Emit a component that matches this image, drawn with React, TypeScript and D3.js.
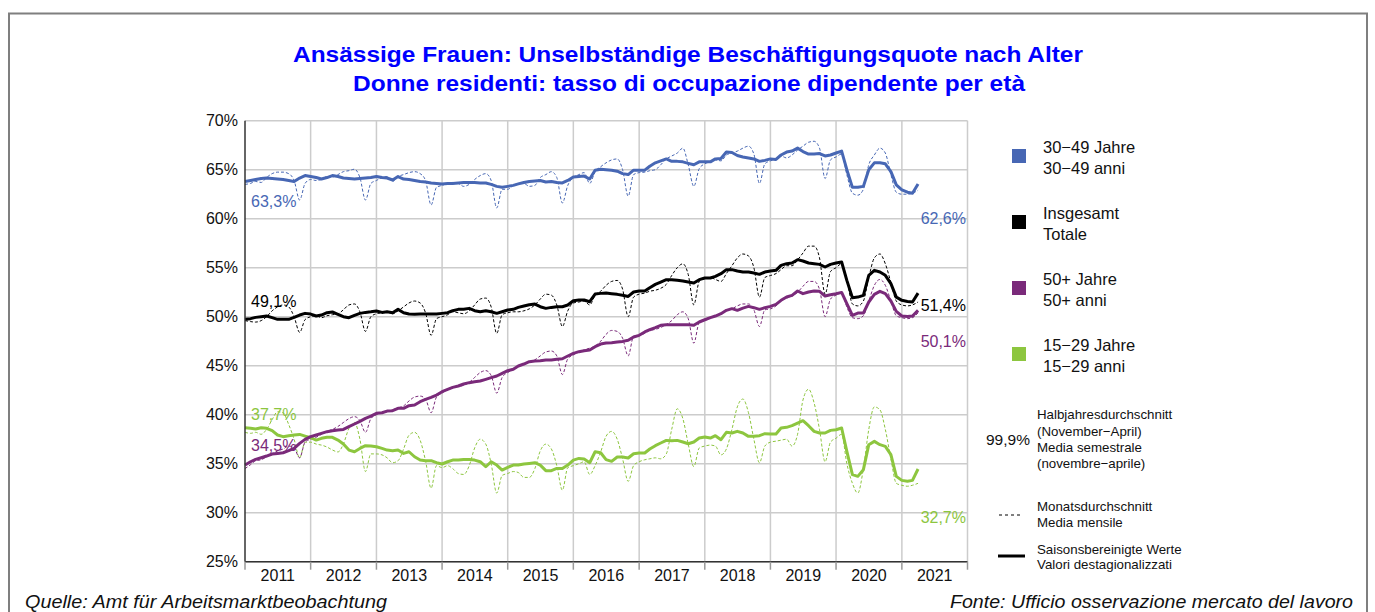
import React from "react";
import * as d3 from "d3";

// Jan 2011 .. Apr 2021, one value per month
const years = [2011, 2012, 2013, 2014, 2015, 2016, 2017, 2018, 2019, 2020, 2021];
const yTicks = [25, 30, 35, 40, 45, 50, 55, 60, 65, 70];

const blueMonthly = [
  63.5, 63.6, 63.8, 63.7, 64.2, 64.6, 64.75, 64.75, 64.6, 63.9, 61.9, 63.6,
  64.0, 63.9, 64.0, 64.3, 64.25, 64.5, 64.8, 64.9, 65.05, 64.2, 61.9, 63.6,
  63.9, 64.2, 64.3, 63.8, 64.3, 64.5, 64.7, 64.8, 64.6, 63.9, 61.4, 63.2,
  63.4, 63.6, 63.7, 63.6, 63.3, 63.5, 64.0, 64.4, 64.6, 63.9, 61.1, 63.0,
  63.0, 63.4, 63.6, 63.6, 63.3, 63.4, 64.2, 64.5, 64.8, 64.2, 61.6, 63.4,
  64.2, 64.5, 64.7, 63.6, 64.8, 65.3, 65.7, 66.0, 66.1, 65.0, 62.3, 64.5,
  64.7, 64.75, 64.9, 65.0, 65.5, 66.1, 66.4, 66.7, 67.2, 65.5, 63.3, 65.1,
  65.6, 65.8, 66.0, 65.9, 66.5, 66.7, 66.9, 67.2, 67.4, 66.6, 63.6, 65.6,
  65.9, 66.1, 66.4, 66.2, 66.5, 67.0, 67.4, 67.8, 67.9, 67.2, 64.1, 66.0,
  66.3, 66.6, 64.5, 62.6, 62.4, 63.0, 65.5, 66.5, 67.2, 66.7, 64.5, 62.7,
  62.5, 62.5, 62.6, 62.9,
];
const blueAdjusted = [
  63.8, 63.9, 64.0, 64.1, 64.15, 64.1, 64.05, 64.0, 63.9, 63.8, 64.15, 64.4,
  64.3, 64.2, 64.05, 64.2, 64.4, 64.3, 64.15, 64.1, 64.05, 64.1, 64.15, 64.2,
  64.3, 64.2, 64.15, 63.95, 64.3, 64.05, 64.0, 63.9, 63.8, 63.75, 63.65, 63.6,
  63.55, 63.6, 63.6, 63.65, 63.7, 63.7, 63.7, 63.65, 63.65, 63.5, 63.3, 63.2,
  63.3, 63.4, 63.55, 63.7, 63.8, 63.85, 63.9, 63.75, 63.8, 63.7, 63.65, 63.9,
  64.25, 64.3, 64.35, 64.05, 64.95, 65.05, 65.0, 64.95, 64.85, 64.6, 64.5, 64.95,
  64.95, 64.95, 65.35, 65.7, 65.9, 66.1, 65.85, 65.85, 65.8, 65.65, 65.5, 65.8,
  65.8, 65.8, 66.1, 66.15, 66.8, 66.75, 66.45, 66.3, 66.2, 66.1, 65.85, 65.95,
  66.1, 66.05, 66.5, 66.8, 66.9, 67.2, 66.85, 66.6, 66.6, 66.65, 66.4, 66.5,
  66.7, 66.9, 65.0, 63.2, 63.2, 63.3, 65.0, 65.7, 65.7, 65.6, 64.8, 63.45,
  62.95, 62.7, 62.6, 63.55,
];

const totalMonthly = [
  49.6, 49.5, 49.45, 49.6, 50.0, 50.6, 51.0, 51.2, 51.0, 50.0, 48.4, 49.7,
  50.0, 50.1, 49.9, 50.1, 50.2, 50.3, 50.7, 51.2, 51.3, 50.5, 48.5, 50.0,
  50.3, 50.4, 50.5, 50.3, 50.6, 51.0, 51.4, 51.6, 51.4, 50.4, 48.1, 49.8,
  50.0, 50.2, 50.5, 50.4, 50.3, 50.6, 51.2, 51.8, 51.9, 51.0, 48.3, 50.2,
  50.4, 50.5, 50.5, 50.6, 50.8, 51.2, 51.8, 52.3, 52.2, 51.2, 49.0, 50.6,
  51.4, 51.5, 51.6, 51.2, 52.2, 52.6, 53.2, 53.6, 53.7, 52.8, 50.0, 52.0,
  52.3, 52.4, 52.6, 52.7, 52.9, 53.3, 54.2, 55.0, 55.4, 54.3, 51.2, 53.6,
  53.9, 54.0, 53.8, 53.6, 54.4, 55.2, 56.0, 56.4, 56.2, 55.0, 52.0, 54.0,
  54.2, 54.4, 54.8, 55.2, 55.2, 55.8, 56.5, 57.2, 57.2, 56.0, 52.3, 54.6,
  55.0, 55.4, 53.8, 51.3, 51.1, 51.6, 54.0, 56.0, 56.4, 55.4, 53.5, 51.6,
  51.2, 51.1, 51.2, 51.5,
];
const totalAdjusted = [
  49.73, 49.8, 49.93, 50.0, 50.07, 49.9, 49.73, 49.73, 49.73, 49.93, 50.17, 50.34,
  50.27, 50.07, 50.17, 50.41, 50.48, 50.24, 50.0, 49.9, 50.14, 50.34, 50.44, 50.5,
  50.58, 50.44, 50.5, 50.41, 50.75, 50.41, 50.27, 50.24, 50.27, 50.27, 50.27, 50.27,
  50.34, 50.41, 50.61, 50.75, 50.75, 50.85, 50.61, 50.51, 50.61, 50.51, 50.34, 50.51,
  50.68, 50.75, 50.95, 51.09, 51.22, 51.29, 51.02, 50.85, 50.95, 51.02, 51.02, 51.19,
  51.63, 51.7, 51.7, 51.53, 52.31, 52.38, 52.41, 52.35, 52.28, 52.18, 52.07, 52.52,
  52.62, 52.62, 52.96, 53.3, 53.54, 53.78, 53.78, 53.71, 53.64, 53.54, 53.44, 53.78,
  53.95, 53.95, 54.12, 54.39, 54.8, 54.8, 54.66, 54.56, 54.56, 54.46, 54.32, 54.56,
  54.66, 54.73, 55.24, 55.41, 55.48, 55.82, 55.68, 55.48, 55.41, 55.34, 55.07, 55.34,
  55.48, 55.58, 53.71, 51.94, 52.0, 52.18, 54.22, 54.73, 54.56, 54.22, 53.37, 52.0,
  51.67, 51.56, 51.5, 52.41,
];

const olderMonthly = [
  34.5, 34.9, 35.3, 35.4, 35.7, 36.0, 36.3, 36.5, 36.8, 36.6, 35.6, 37.2,
  37.5, 37.7, 38.0, 38.3, 38.5, 38.8, 39.2, 39.6, 39.8, 39.4, 38.2, 39.6,
  40.0, 40.2, 40.3, 40.5, 40.7, 40.9, 41.4, 41.8, 41.9, 41.6, 40.2, 41.8,
  42.2, 42.6, 42.8, 42.9, 43.0, 43.3, 43.8, 44.3, 44.5, 44.0, 42.2, 43.8,
  44.3, 44.6, 44.9, 45.2, 45.4, 45.6, 46.0, 46.4, 46.5, 46.0, 44.1, 45.7,
  46.1, 46.4, 46.6, 46.8, 47.0, 47.5, 48.2, 48.6, 48.5, 47.8, 46.0, 48.0,
  48.1, 48.3, 48.6, 48.7, 48.9, 49.2, 49.6, 50.2, 50.5, 49.8, 47.3, 49.4,
  49.6, 49.9, 50.1, 50.3, 50.6, 50.8, 51.1, 51.3, 51.3, 50.7, 49.0, 50.7,
  50.8, 51.1, 51.6, 51.9, 52.1, 52.5, 53.1, 53.6, 53.6, 52.8, 50.0, 51.8,
  52.2, 52.4, 51.0, 49.9, 49.8, 50.1, 51.6, 53.2, 53.8, 53.2, 51.6, 50.1,
  49.9, 49.8, 49.9, 50.4,
];
const olderAdjusted = [
  34.86, 35.2, 35.44, 35.61, 35.78, 35.99, 36.05, 36.12, 36.33, 36.56, 37.07, 37.48,
  37.76, 37.93, 38.1, 38.27, 38.37, 38.44, 38.5, 38.78, 39.05, 39.32, 39.63, 39.86,
  40.14, 40.2, 40.37, 40.41, 40.65, 40.65, 40.92, 40.99, 41.33, 41.56, 41.77, 42.01,
  42.35, 42.59, 42.79, 42.93, 43.13, 43.27, 43.37, 43.44, 43.61, 43.78, 43.95, 44.22,
  44.49, 44.63, 44.97, 45.17, 45.41, 45.48, 45.51, 45.58, 45.58, 45.65, 45.71, 45.99,
  46.26, 46.43, 46.53, 46.6, 46.94, 47.21, 47.31, 47.35, 47.41, 47.48, 47.59, 47.93,
  48.1, 48.44, 48.67, 48.88, 49.12, 49.18, 49.18, 49.18, 49.18, 49.18, 49.12, 49.46,
  49.69, 49.9, 50.07, 50.31, 50.65, 50.82, 50.65, 50.88, 51.05, 50.92, 50.75, 50.92,
  51.05, 51.26, 51.67, 52.01, 52.18, 52.62, 52.35, 52.52, 52.62, 52.59, 52.11, 52.24,
  52.35, 52.48, 51.33, 50.14, 50.37, 50.37, 51.5, 52.28, 52.59, 52.35, 51.6, 50.54,
  50.07, 50.03, 50.07, 50.65,
];

const youngMonthly = [
  38.2, 38.1, 38.2, 38.0, 38.5, 39.5, 40.3, 40.2, 39.0, 37.5, 35.6, 37.2,
  37.2, 37.0, 36.9, 36.7, 36.4, 36.2, 37.0, 38.6, 39.2, 37.5, 34.2, 36.0,
  36.0, 35.9, 35.6, 35.1, 35.3, 36.5, 37.9, 38.2, 37.4, 35.3, 32.5, 34.8,
  34.6, 34.8, 34.5, 34.0, 33.9, 34.8, 36.6, 37.5, 37.0, 35.0, 32.0, 33.8,
  34.0, 34.2, 34.1, 33.6, 33.6, 34.5, 36.3, 37.0, 36.5, 34.8, 32.3, 34.6,
  34.8, 35.0, 35.2, 33.9, 34.8, 36.2, 37.8, 38.3, 37.5, 35.5, 33.2, 34.8,
  35.2, 35.4, 35.5, 35.6, 35.5, 36.0, 38.5, 40.6, 39.6, 37.0, 34.7, 36.6,
  36.8, 36.9, 36.8, 35.9, 36.5, 38.5, 40.8, 41.6, 40.2, 37.5, 35.1, 36.8,
  37.2, 37.3, 37.4, 37.5, 36.8, 38.0, 41.5, 42.6, 41.2, 38.5, 35.2, 37.2,
  37.6, 38.0, 35.0, 33.0, 32.0, 34.5, 38.5, 40.8, 40.5, 38.5, 35.5, 33.0,
  32.8, 32.7, 32.8, 33.0,
];
const youngAdjusted = [
  38.67, 38.61, 38.54, 38.67, 38.61, 38.37, 37.93, 37.76, 37.86, 37.93, 37.99, 37.82,
  37.65, 37.41, 37.59, 37.69, 37.69, 37.41, 37.01, 36.39, 36.22, 36.56, 36.84, 36.8,
  36.73, 36.56, 36.39, 36.33, 36.39, 36.05, 36.22, 35.71, 35.37, 35.31, 35.31, 35.1,
  34.97, 35.2, 35.37, 35.37, 35.44, 35.44, 35.37, 35.2, 34.69, 35.2, 34.86, 34.35,
  34.63, 34.86, 34.86, 34.97, 35.03, 35.1, 34.86, 34.29, 34.29, 34.52, 34.52, 34.86,
  35.37, 35.54, 35.48, 35.1, 36.22, 36.12, 35.41, 35.24, 35.68, 35.68, 35.58, 36.02,
  36.09, 36.09, 36.5, 36.84, 37.11, 37.38, 37.35, 37.38, 37.21, 37.04, 37.21, 37.62,
  37.72, 37.62, 37.86, 37.45, 38.2, 38.13, 38.3, 38.13, 37.79, 37.79, 37.86, 38.06,
  38.03, 38.03, 38.64, 38.71, 38.88, 39.15, 39.39, 38.88, 38.3, 38.13, 38.13, 38.4,
  38.47, 38.64, 36.26, 33.88, 33.71, 34.39, 36.94, 37.28, 36.94, 36.77, 35.92, 33.71,
  33.3, 33.2, 33.3, 34.46,
];

// half-year averages (November-April) shown at both ends of the lines
const startLabels = ["63,3%", "49,1%", "37,7%", "34,5%"];
const startLabelAt = [61.8, 51.55, 40.04, 36.9];
const endLabels = ["62,6%", "51,4%", "50,1%", "32,7%"];
const endLabelAt = [60.04, 51.12, 47.45, 29.53];

const legendDe = ["30−49 Jahre", "Insgesamt", "50+ Jahre", "15−29 Jahre"];
const legendIt = ["30−49 anni", "Totale", "50+ anni", "15−29 anni"];

const BLUE = "#4767b4";
const BLACK = "#000000";
const PURPLE = "#7a2a7a";
const GREEN = "#8dc63f";
const FONT = "'Liberation Sans', Arial, Helvetica, sans-serif";

export default function App() {
  const width = 1375;
  const height = 612;
  const left = 245;
  const right = 967.5;
  const top = 120.7;
  const bottom = 561.7;

  const start = new Date(2011, 0, 1);
  const date = (i: number) => d3.timeMonth.offset(start, i);
  const x = d3.scaleTime().domain([start, new Date(2022, 0, 1)]).range([left, right]);
  const y = d3.scaleLinear().domain([25, 70]).range([bottom, top]);

  const solidLine = d3.line<number>().x((d, i) => x(date(i))).y(d => y(d));
  const dashLine = d3.line<number>().x((d, i) => x(date(i))).y(d => y(d)).curve(d3.curveMonotoneX);

  const series = [
    { monthly: youngMonthly, adjusted: youngAdjusted, color: GREEN },
    { monthly: olderMonthly, adjusted: olderAdjusted, color: PURPLE },
    { monthly: totalMonthly, adjusted: totalAdjusted, color: BLACK },
    { monthly: blueMonthly, adjusted: blueAdjusted, color: BLUE },
  ];
  const startColors = [BLUE, BLACK, GREEN, PURPLE];
  const endColors = [BLUE, BLACK, PURPLE, GREEN];
  const legendColors = [BLUE, BLACK, PURPLE, GREEN];

  const boundaries = years.concat([2022]).map(yr => x(new Date(yr, 0, 1)));

  return (
    <div style={{ position: "absolute", left: 0, top: 0, width, height, overflow: "hidden" }}>
      <svg width={width} height={height} style={{ display: "block", fontFamily: FONT }}>
        <rect x={0} y={0} width={width} height={height} fill="#fff" />
        <rect x={9} y={13.5} width={1358} height={640} fill="none" stroke="#7f7f7f" strokeWidth={2} />

        <text x={688} y={62} textAnchor="middle" fontSize={22} fontWeight="bold" fill="#0000ff"
          textLength={790} lengthAdjust="spacingAndGlyphs">
          Ansässige Frauen: Unselbständige Beschäftigungsquote nach Alter
        </text>
        <text x={689} y={91} textAnchor="middle" fontSize={22} fontWeight="bold" fill="#0000ff"
          textLength={672} lengthAdjust="spacingAndGlyphs">
          Donne residenti: tasso di occupazione dipendente per età
        </text>

        {/* grid */}
        {yTicks.map(t => (
          <line key={"gy" + t} x1={left} x2={right} y1={y(t)} y2={y(t)} stroke="#cccccc" strokeWidth={1.5} />
        ))}
        {boundaries.slice(1).map((bx, i) => (
          <line key={"gx" + i} x1={bx} x2={bx} y1={top} y2={bottom} stroke="#cccccc" strokeWidth={1.5} />
        ))}

        {/* monthly averages */}
        {series.map((s, i) => (
          <path key={"m" + i} d={dashLine(s.monthly) || ""} fill="none" stroke={s.color}
            strokeWidth={1} strokeDasharray="3,2" />
        ))}
        {/* seasonally adjusted */}
        {series.map((s, i) => (
          <path key={"a" + i} d={solidLine(s.adjusted) || ""} fill="none" stroke={s.color}
            strokeWidth={3} strokeLinejoin="round" />
        ))}

        {/* axes */}
        <line x1={left} x2={left} y1={top} y2={bottom} stroke="#333" strokeWidth={1.5} />
        <line x1={left} x2={right} y1={bottom} y2={bottom} stroke="#333" strokeWidth={1.5} />
        {boundaries.map((bx, i) => (
          <line key={"t" + i} x1={bx} x2={bx} y1={bottom} y2={bottom + 8} stroke="#999" strokeWidth={1.5} />
        ))}
        {yTicks.map(t => (
          <text key={"yl" + t} x={238} y={y(t)} dy="0.36em" textAnchor="end" fontSize={16} fill="#111">
            {t}%
          </text>
        ))}
        {years.map((yr, i) => (
          <text key={"xl" + yr} x={(boundaries[i] + boundaries[i + 1]) / 2} y={581} textAnchor="middle"
            fontSize={16} fill="#111">
            {yr}
          </text>
        ))}

        {/* value labels */}
        {startLabels.map((t, i) => (
          <text key={"sl" + i} x={251} y={y(startLabelAt[i])} dy="0.36em" fontSize={16} fill={startColors[i]}>
            {t}
          </text>
        ))}
        {endLabels.map((t, i) => (
          <text key={"el" + i} x={966} y={y(endLabelAt[i])} dy="0.36em" textAnchor="end" fontSize={16}
            fill={endColors[i]}>
            {t}
          </text>
        ))}

        {/* legend: series */}
        {legendDe.map((t, i) => (
          <g key={"lg" + i} transform={`translate(0, ${i * 66})`}>
            <rect x={1012} y={149} width={14} height={14} fill={legendColors[i]} />
            <text x={1043} y={152.5} fontSize={16.5} fill="#111">{t}</text>
            <text x={1043} y={173.5} fontSize={16.5} fill="#111">{legendIt[i]}</text>
          </g>
        ))}

        {/* legend: line types */}
        <text x={986} y={439.5} dy="0.36em" fontSize={15.5} fill="#111">99,9%</text>
        <g fontSize={13.3} fill="#111">
          <text x={1037} y={418.5}>Halbjahresdurchschnitt</text>
          <text x={1037} y={436}>(November−April)</text>
          <text x={1037} y={452}>Media semestrale</text>
          <text x={1037} y={468}>(novembre−aprile)</text>
          <text x={1037} y={510.5}>Monatsdurchschnitt</text>
          <text x={1037} y={527}>Media mensile</text>
          <text x={1037} y={553.5}>Saisonsbereinigte Werte</text>
          <text x={1037} y={569}>Valori destagionalizzati</text>
        </g>
        <line x1={999} x2={1021} y1={515} y2={515} stroke="#000" strokeWidth={1} strokeDasharray="3,3" />
        <line x1={998} x2={1025} y1={556} y2={556} stroke="#000" strokeWidth={3} />

        {/* sources */}
        <text x={25} y={607.5} fontSize={18} fontStyle="italic" fill="#111"
          textLength={362} lengthAdjust="spacingAndGlyphs">
          Quelle: Amt für Arbeitsmarktbeobachtung
        </text>
        <text x={1353} y={607.5} textAnchor="end" fontSize={18} fontStyle="italic" fill="#111"
          textLength={403} lengthAdjust="spacingAndGlyphs">
          Fonte: Ufficio osservazione mercato del lavoro
        </text>
      </svg>
    </div>
  );
}
